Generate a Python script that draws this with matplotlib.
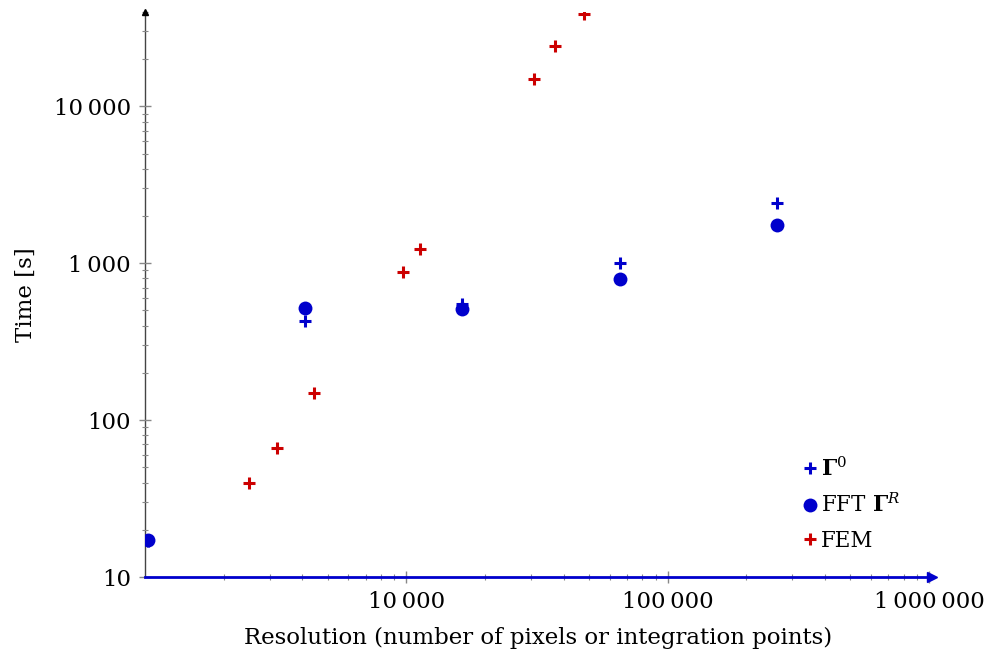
import matplotlib.pyplot as plt
from matplotlib.ticker import FixedLocator, LogLocator, NullFormatter

plt.rcParams['font.family'] = ['DejaVu Serif']
plt.rcParams['mathtext.fontset'] = 'dejavuserif'

# FFT-based solvers, resolution = number of pixels
fft_res = [1024, 4096, 16384, 65536, 262144]
gamma0_time = [17, 430, 550, 1000, 2420]
gammaR_time = [17.2, 520, 514, 795, 1750]

# finite element reference, resolution = integration points
fem_res = [2510, 3210, 4440, 9700, 11250, 30900, 37100, 47900]
fem_time = [40, 66, 148, 875, 1235, 14900, 24400, 39000]

x_ticks = [1e4, 1e5, 1e6]
x_labels = ["10\u2009000", "100\u2009000", "1\u2009000\u2009000"]
y_ticks = [10, 100, 1000, 10000]
y_labels = ["10", "100", "1\u2009000", "10\u2009000"]

blue = "#0000cc"
red = "#cc0000"

fig = plt.figure(figsize=(9.86, 6.59), dpi=100)
ax = fig.add_axes([0.147, 0.1244, 0.798, 0.8576])

ax.plot(fft_res, gamma0_time, "+", color=blue, ms=8, mew=2.2, ls="none", label=r"$\mathbf{\Gamma}^0$")
ax.plot(fft_res, gammaR_time, "o", color=blue, ms=10, mew=0, ls="none", label=r"FFT $\mathbf{\Gamma}^R$")
ax.plot(fem_res, fem_time, "+", color=red, ms=8, mew=2.2, ls="none", label="FEM")

ax.set_xscale("log")
ax.set_yscale("log")
ax.set_xlim(1000, 1.025e6)
ax.set_ylim(10, 40000)

ax.xaxis.set_major_locator(FixedLocator(x_ticks))
ax.set_xticklabels(x_labels)
ax.yaxis.set_major_locator(FixedLocator(y_ticks))
ax.set_yticklabels(y_labels)
ax.xaxis.set_minor_locator(LogLocator(base=10, subs=range(2, 10), numticks=20))
ax.yaxis.set_minor_locator(LogLocator(base=10, subs=range(2, 10), numticks=20))
ax.xaxis.set_minor_formatter(NullFormatter())
ax.yaxis.set_minor_formatter(NullFormatter())

ax.tick_params(which="major", direction="inout", length=8, width=1, color="#888888", labelsize=16.5, pad=6)
ax.tick_params(which="minor", direction="inout", length=5, width=0.8, color="#888888")

for s in ["top", "right"]:
    ax.spines[s].set_visible(False)
ax.spines["left"].set_color("#444444")
ax.spines["left"].set_linewidth(1)
ax.spines["bottom"].set_color(blue)
ax.spines["bottom"].set_linewidth(2)
ax.spines["left"].set_zorder(1)

ax.plot(1, 0, ">", color=blue, ms=7, transform=ax.transAxes, clip_on=False)
ax.plot(0, 1, "^", color="black", ms=5, transform=ax.transAxes, clip_on=False)

ax.set_xlabel("Resolution (number of pixels or integration points)", fontsize=16.5, labelpad=10)
ax.set_ylabel("Time [s]", fontsize=16.5, labelpad=12)

ax.legend(loc="lower right", bbox_to_anchor=(0.985, 0.01), frameon=False, fontsize=15.5,
          handletextpad=0.05, handlelength=1.0, labelspacing=0.6, markerscale=1.0)

fig.savefig("out.png", dpi=100)
